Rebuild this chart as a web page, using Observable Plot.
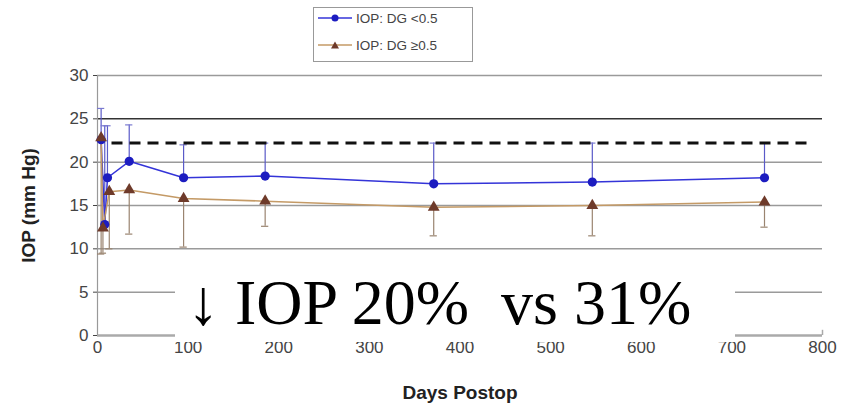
<!DOCTYPE html>
<html>
<head>
<meta charset="utf-8">
<script src="https://cdn.jsdelivr.net/npm/d3@7"></script>
<script src="https://cdn.jsdelivr.net/npm/@observablehq/plot@0.6"></script>
<style>
  html, body { margin: 0; padding: 0; background: #fff; }
  #wrap { position: relative; width: 845px; height: 414px; font-family: "Liberation Sans", Arial, sans-serif; }
  #legend { position: absolute; left: 313px; top: 7px; width: 160px; height: 55px; border: 1px solid #999; background: #fff; box-sizing: border-box; font-size: 13.5px; color: #444; }
  #legend .row { position: absolute; left: 4px; height: 16px; display: flex; align-items: center; }
  #legend .row span { margin-left: 4px; }
  #note { position: absolute; left: 175px; top: 253px; width: 560px; height: 89px; background: #fff; overflow: hidden; }
  #note span { position: absolute; left: 12px; top: 18px; font-family: "Liberation Serif", "Times New Roman", serif; font-size: 64px; line-height: 64px; color: #000; white-space: pre; }
</style>
</head>
<body>
<div id="wrap">
  <div id="chart"></div>
  <div id="legend"></div>
  <div id="note"><span id="notetext"></span></div>
</div>
<script>
// ---- data ----
const seriesNames = ["IOP: DG <0.5", "IOP: DG \u22650.5"];
const daysLow  = [4, 8, 11, 35, 95, 185, 371, 546, 736];
const iopLow   = [22.6, 12.8, 18.2, 20.1, 18.2, 18.4, 17.5, 17.7, 18.2];
const upperLow = [26.2, 24.2, 24.2, 24.3, 22.0, 22.2, 22.2, 22.2, 22.2];
const daysHigh  = [4, 6, 13, 35, 95, 185, 371, 546, 736];
const iopHigh   = [22.8, 12.4, 16.6, 16.8, 15.8, 15.5, 14.8, 15.0, 15.4];
const lowerHigh = [9.4, 9.5, 10.0, 11.7, 10.2, 12.6, 11.5, 11.5, 12.5];
const targetIOP = 22.2;
const xTicks = [0, 100, 200, 300, 400, 500, 600, 700, 800];
const yTicks = [0, 5, 10, 15, 20, 25, 30];
const noteText = "\u2193 IOP 20%  vs 31%";
const xLabel = "Days Postop";
const yLabel = "IOP (mm Hg)";

const low = daysLow.map((d, i) => ({day: d, iop: iopLow[i], bar: upperLow[i]}));
const high = daysHigh.map((d, i) => ({day: d, iop: iopHigh[i], bar: lowerHigh[i]}));

const blue = "#3434d8", blueDot = "#1c1cc0";
const tan = "#c49a66", brownTri = "#6e3a2a", brownBar = "#9a8470";
const capW = 4;

const chart = Plot.plot({
  width: 845,
  height: 414,
  marginLeft: 97,
  marginRight: 23,
  marginTop: 75,
  marginBottom: 79,
  style: {fontFamily: "'Liberation Sans', Arial, sans-serif", background: "#fff", fontSize: "17px"},
  x: {domain: [0, 800], ticks: xTicks},
  y: {domain: [0, 30], ticks: yTicks},
  marks: [
    Plot.ruleY(yTicks.filter(v => v > 0 && v !== 25), {stroke: "#9a9a9a", strokeWidth: 1.5}),
    Plot.ruleY([25], {stroke: "#333", strokeWidth: 1.5}),
    Plot.ruleY([0], {stroke: "#aaa", strokeWidth: 2.5}),
    Plot.ruleX([800], {y1: 0, y2: 0.6, stroke: "#aaa", strokeWidth: 1.5}),
    Plot.ruleX([0], {stroke: "#999", strokeWidth: 1.2}),
    Plot.axisY({ticks: yTicks, tickSize: 4, tickPadding: 5, fontSize: 17, color: "#444", label: null}),
    Plot.axisX({ticks: xTicks, tickSize: 0, tickPadding: 5, fontSize: 17, color: "#444", label: null}),
    Plot.text([yLabel], {frameAnchor: "left", textAnchor: "middle", dx: -69, rotate: -90, fontSize: 19, fontWeight: "bold", fill: "#222"}),
    Plot.text([xLabel], {frameAnchor: "bottom", textAnchor: "middle", dy: 63, fontSize: 19, fontWeight: "bold", fill: "#222"}),
    // error bars
    Plot.ruleX(low, {x: "day", y1: "iop", y2: "bar", stroke: "#5a5ac8", strokeWidth: 1.2}),
    Plot.ruleY(low, {y: "bar", x1: d => d.day - capW, x2: d => d.day + capW, stroke: "#7a7ad0", strokeWidth: 1.2}),
    Plot.ruleX(high, {x: "day", y1: "bar", y2: "iop", stroke: brownBar, strokeWidth: 1.2}),
    Plot.ruleY(high, {y: "bar", x1: d => d.day - capW, x2: d => d.day + capW, stroke: brownBar, strokeWidth: 1.2}),
    // target dashed line
    Plot.ruleY([targetIOP], {x1: 16, x2: 790, stroke: "#111", strokeWidth: 3, strokeDasharray: "11,7"}),
    // series lines
    Plot.line(low, {x: "day", y: "iop", stroke: blue, strokeWidth: 1.5}),
    Plot.line(high, {x: "day", y: "iop", stroke: tan, strokeWidth: 1.5}),
    Plot.dot(low, {x: "day", y: "iop", r: 4.6, fill: blueDot, stroke: "none"}),
    Plot.dot(high, {x: "day", y: "iop", symbol: "triangle", r: 4.4, fill: brownTri, stroke: "none"})
  ]
});
document.getElementById("chart").appendChild(chart);

// legend
const leg = document.getElementById("legend");
const rows = [
  {name: seriesNames[0], line: blue, sym: `<circle cx="17" cy="8" r="3.5" fill="${blueDot}"/>`, top: 2},
  {name: seriesNames[1], line: tan, sym: `<path d="M17,4.5 L21,11.5 L13,11.5 Z" fill="${brownTri}"/>`, top: 29}
];
rows.forEach(r => {
  const div = document.createElement("div");
  div.className = "row";
  div.style.top = r.top + "px";
  div.innerHTML = `<svg width="34" height="16"><line x1="0" y1="8" x2="34" y2="8" stroke="${r.line}" stroke-width="1.5"/>${r.sym}</svg><span>${r.name}</span>`;
  leg.appendChild(div);
});

document.getElementById("notetext").textContent = noteText;
</script>
</body>
</html>
